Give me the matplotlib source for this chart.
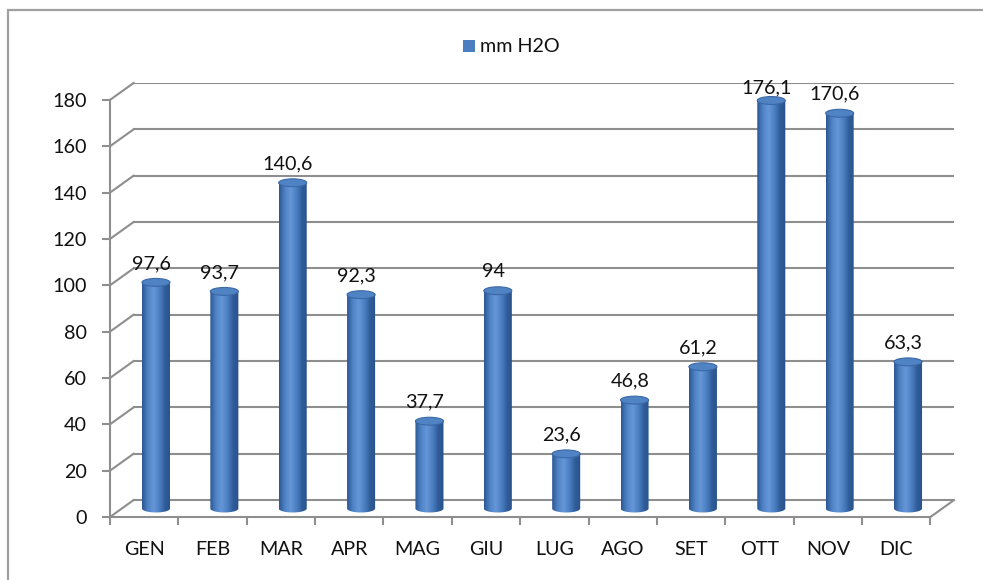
import numpy as np
import matplotlib
matplotlib.use('Agg')
import matplotlib.pyplot as plt
from matplotlib.path import Path
from matplotlib.patches import PathPatch, Ellipse, Rectangle
from matplotlib.colors import LinearSegmentedColormap

plt.rcParams['font.family'] = ['Lato', 'DejaVu Sans']

mesi = ['GEN', 'FEB', 'MAR', 'APR', 'MAG', 'GIU', 'LUG', 'AGO', 'SET', 'OTT', 'NOV', 'DIC']
pioggia = [97.6, 93.7, 140.6, 92.3, 37.7, 94, 23.6, 46.8, 61.2, 176.1, 170.6, 63.3]
etichette = ['97,6', '93,7', '140,6', '92,3', '37,7', '94', '23,6', '46,8', '61,2', '176,1', '170,6', '63,3']
yticks = np.arange(0, 181, 20)

# fake 3d depth (in data units)
dx = 0.345
dy = 7.3
grigio = '#8e8e8e'
fs = 14.2

fig = plt.figure(figsize=(9.83, 5.80), dpi=100)
W, H = 983, 580
ax = fig.add_axes([110 / W, (H - 517) / H, (954 - 110) / W, (517 - 83) / H])
ax.set_xlim(-0.5, 11.5 + dx)
ax.set_ylim(0, 180 + dy)
ax.set_facecolor('none')

# chart frame
fig.patches.append(Rectangle((8 / W, -0.05), 1.1, 1 - 10 / H + 0.05, transform=fig.transFigure,
                             fill=False, edgecolor='#a0a0a0', linewidth=1.6))

# back wall gridlines + side diagonals
for v in yticks:
    ax.plot([-0.5 + dx, 11.5 + dx], [v + dy, v + dy], color=grigio, lw=1.5, zorder=1)
    ax.plot([-0.5, -0.5 + dx], [v, v + dy], color=grigio, lw=1.5, zorder=1, clip_on=False)
# floor right edge
ax.plot([11.5, 11.5 + dx], [0, dy], color=grigio, lw=1.5, zorder=1, clip_on=False)

# cylinders
cmap = LinearSegmentedColormap.from_list('cil', ['#2b5893', '#4f83c6', '#6597d8', '#4d80c3', '#305e9a', '#28518b'])
grad = np.linspace(0, 1, 64).reshape(1, -1)
w = 0.41
he = 3.4
for i, v in enumerate(pioggia):
    xc = i + dx / 2
    y0 = dy / 2
    y1 = v + dy / 2
    t = np.linspace(np.pi, 2 * np.pi, 40)
    px = np.concatenate([xc + w / 2 * np.cos(t), [xc + w / 2, xc - w / 2, xc - w / 2]])
    py = np.concatenate([y0 + he / 2 * np.sin(t), [y1, y1, y0]])
    body = PathPatch(Path(np.column_stack([px, py])), facecolor='none', edgecolor='none')
    ax.add_patch(body)
    im = ax.imshow(grad, cmap=cmap, extent=(xc - w / 2, xc + w / 2, y0 - he, y1),
                   aspect='auto', zorder=3, interpolation='bilinear')
    im.set_clip_path(body)
    ax.add_patch(Ellipse((xc, y1), w, he, facecolor='#5083c4', edgecolor='#3b68a6',
                         linewidth=0.8, zorder=4))
    # labels stay inside the chart area
    ytxt = min(y1 + 4.5, 181.5)
    ax.text(xc - 0.07, ytxt, etichette[i], ha='center', va='bottom', fontsize=fs,
            color='#111111', zorder=5, clip_on=False)

# axes
for s in ['top', 'right']:
    ax.spines[s].set_visible(False)
ax.spines['left'].set_bounds(0, 180)
ax.spines['bottom'].set_bounds(-0.5, 11.5)
for s in ['left', 'bottom']:
    ax.spines[s].set_color(grigio)
    ax.spines[s].set_linewidth(1.5)
    ax.spines[s].set_zorder(2)

ax.set_yticks(yticks)
ax.set_yticklabels([str(v) for v in yticks])
ax.tick_params(axis='y', length=5.5, width=1.5, color=grigio, pad=11, labelsize=fs, labelcolor='#111111')
ax.set_xticks(np.arange(-0.5, 12, 1))
ax.set_xticklabels([])
ax.set_xticks(np.arange(12), minor=True)
ax.set_xticklabels(mesi, minor=True)
ax.tick_params(axis='x', which='major', length=6, width=1.5, color=grigio)
ax.tick_params(axis='x', which='minor', length=0, pad=17, labelsize=fs, labelcolor='#111111')

# legend
fig.patches.append(Rectangle((463 / W, 1 - 52 / H), 12 / W, 12 / H, transform=fig.transFigure,
                             facecolor='#4a7ebf', edgecolor='none'))
fig.text(480 / W, 1 - 46 / H, 'mm H2O', ha='left', va='center', fontsize=fs, color='#111111')

fig.savefig('out.png', dpi=100)
